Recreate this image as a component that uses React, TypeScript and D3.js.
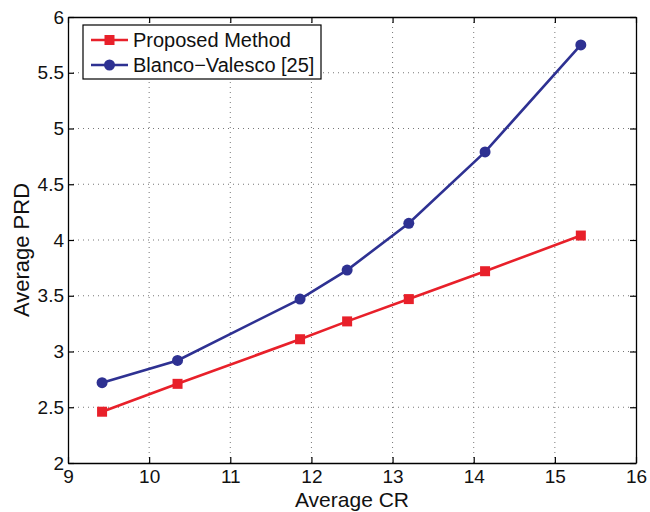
import React, { useEffect, useRef } from "react";
import * as d3 from "d3";

const crValues = [9.42, 10.35, 11.86, 12.44, 13.2, 14.14, 15.32];
const proposedPRD = [2.46, 2.71, 3.11, 3.27, 3.47, 3.72, 4.04];
const blancoPRD = [2.72, 2.92, 3.47, 3.73, 4.15, 4.79, 5.75];
const xTicks = [9, 10, 11, 12, 13, 14, 15, 16];
const yTicks = [2, 2.5, 3, 3.5, 4, 4.5, 5, 5.5, 6];
const seriesNames = ["Proposed Method", "Blanco\u2212Valesco [25]"];

const width = 650;
const height = 512;
const margin = { top: 17, right: 14, bottom: 49, left: 68 };
const font = "'Liberation Sans', Arial, Helvetica, sans-serif";

export default function App() {
  const ref = useRef<SVGSVGElement>(null);

  useEffect(() => {
    const svg = d3.select(ref.current);
    svg.selectAll("*").remove();

    const w = width - margin.left - margin.right;
    const h = height - margin.top - margin.bottom;

    const x = d3.scaleLinear().domain([9, 16]).range([0, w]);
    const y = d3.scaleLinear().domain([2, 6]).range([h, 0]);

    const g = svg
      .append("g")
      .attr("transform", `translate(${margin.left}, ${margin.top})`);

    // dotted grid
    g.selectAll(".gx")
      .data(xTicks.slice(1, -1))
      .enter()
      .append("line")
      .attr("x1", d => x(d))
      .attr("x2", d => x(d))
      .attr("y1", 0)
      .attr("y2", h)
      .attr("stroke", "#777")
      .attr("stroke-width", 1)
      .attr("stroke-dasharray", "1,4");
    g.selectAll(".gy")
      .data(yTicks.slice(1, -1))
      .enter()
      .append("line")
      .attr("x1", 0)
      .attr("x2", w)
      .attr("y1", d => y(d))
      .attr("y2", d => y(d))
      .attr("stroke", "#777")
      .attr("stroke-width", 1)
      .attr("stroke-dasharray", "1,4");

    // axes, ticks inward on all sides
    const tickLen = 6;
    const xAxis = d3.axisBottom(x).tickValues(xTicks).tickSizeInner(-tickLen).tickSizeOuter(0).tickPadding(7).tickFormat(d => String(d));
    const xAxisTop = d3.axisTop(x).tickValues(xTicks).tickSizeInner(-tickLen).tickSizeOuter(0).tickFormat(() => "");
    const yAxis = d3.axisLeft(y).tickValues(yTicks).tickSizeInner(-tickLen).tickSizeOuter(0).tickPadding(4).tickFormat(d => String(d));
    const yAxisRight = d3.axisRight(y).tickValues(yTicks).tickSizeInner(-tickLen).tickSizeOuter(0).tickFormat(() => "");

    const styleAxis = (sel: any) => {
      sel.select(".domain").attr("stroke", "#000").attr("stroke-width", 1.3);
      sel.selectAll(".tick line").attr("stroke", "#000").attr("stroke-width", 1.2);
      sel.selectAll("text").attr("font-family", font).attr("font-size", 19).attr("fill", "#111");
    };

    g.append("g").attr("transform", `translate(0, ${h})`).call(xAxis).call(styleAxis);
    g.append("g").call(xAxisTop).call(styleAxis);
    g.append("g").call(yAxis).call(styleAxis);
    g.append("g").attr("transform", `translate(${w}, 0)`).call(yAxisRight).call(styleAxis);

    const series = [
      { name: seriesNames[0], values: proposedPRD, color: "#e8202a", marker: "square" },
      { name: seriesNames[1], values: blancoPRD, color: "#2e3192", marker: "circle" }
    ];

    const line = d3
      .line<number>()
      .x((d, i) => x(crValues[i]))
      .y(d => y(d));

    series.forEach(s => {
      g.append("path")
        .datum(s.values)
        .attr("d", line)
        .attr("fill", "none")
        .attr("stroke", s.color)
        .attr("stroke-width", 2.6);

      if (s.marker === "square") {
        g.selectAll(null)
          .data(s.values)
          .enter()
          .append("rect")
          .attr("x", (d, i) => x(crValues[i]) - 5)
          .attr("y", d => y(d) - 5)
          .attr("width", 10)
          .attr("height", 10)
          .attr("fill", s.color);
      } else {
        g.selectAll(null)
          .data(s.values)
          .enter()
          .append("circle")
          .attr("cx", (d, i) => x(crValues[i]))
          .attr("cy", d => y(d))
          .attr("r", 5.5)
          .attr("fill", s.color);
      }
    });

    // legend
    const legend = svg.append("g").attr("transform", "translate(83, 25)");
    legend
      .append("rect")
      .attr("width", 238)
      .attr("height", 54)
      .attr("fill", "#fff")
      .attr("stroke", "#000")
      .attr("stroke-width", 1.2);
    series.forEach((s, i) => {
      const ly = 15 + i * 25;
      legend
        .append("line")
        .attr("x1", 8)
        .attr("x2", 45)
        .attr("y1", ly)
        .attr("y2", ly)
        .attr("stroke", s.color)
        .attr("stroke-width", 2.6);
      if (s.marker === "square") {
        legend.append("rect").attr("x", 21.5).attr("y", ly - 5).attr("width", 10).attr("height", 10).attr("fill", s.color);
      } else {
        legend.append("circle").attr("cx", 26.5).attr("cy", ly).attr("r", 5.5).attr("fill", s.color);
      }
      legend
        .append("text")
        .attr("x", 50)
        .attr("y", ly + 7)
        .attr("font-family", font)
        .attr("font-size", 20)
        .attr("fill", "#111")
        .text(s.name);
    });

    // axis labels
    svg
      .append("text")
      .attr("x", margin.left + w / 2)
      .attr("y", 507)
      .attr("text-anchor", "middle")
      .attr("font-family", font)
      .attr("font-size", 21)
      .attr("fill", "#111")
      .text("Average CR");
    svg
      .append("text")
      .attr("transform", `translate(29, 250) rotate(-90)`)
      .attr("text-anchor", "middle")
      .attr("font-family", font)
      .attr("font-size", 22)
      .attr("fill", "#111")
      .text("Average PRD");
  }, []);

  return (
    <svg
      ref={ref}
      width={width}
      height={height}
      style={{ position: "absolute", left: 0, top: 0, background: "#fff" }}
    />
  );
}
